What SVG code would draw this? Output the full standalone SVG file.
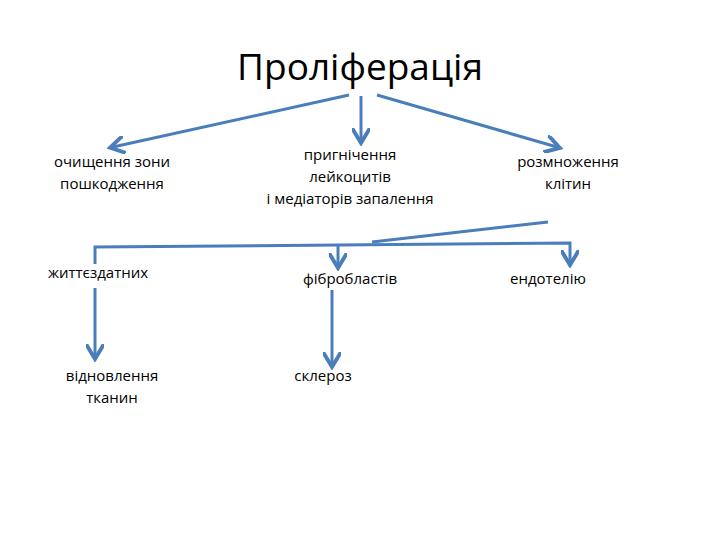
<svg xmlns="http://www.w3.org/2000/svg" width="720" height="540" viewBox="0 0 720 540">
<style>
text{font-family:"Open Sans","Liberation Sans",sans-serif;font-size:15px;fill:#000;text-anchor:middle}
.t{font-size:37px}
.c line,.c polyline{stroke:#4a7ebb;stroke-width:3;fill:none}
</style>
<defs><marker id="a" markerWidth="6" markerHeight="6" refX="4" refY="3" orient="auto" markerUnits="strokeWidth"><path d="M0,0 L5,3 L0,6" fill="none" stroke="#4a7ebb" stroke-width="1.3"/></marker></defs>
<rect width="720" height="540" fill="#fff"/>
<g id="title"><text class="t" x="360" y="80">Проліферація</text></g>
<g id="n1"><text x="112" y="167">очищення зони</text><text x="112" y="189">пошкодження</text></g>
<g id="n2"><text x="350" y="160">пригнічення</text><text x="350" y="182">лейкоцитів</text><text x="350" y="204">і медіаторів запалення</text></g>
<g id="n3"><text x="568" y="167">розмноження</text><text x="568" y="189">клітин</text></g>
<g id="n4"><text x="98" y="278">життєздатних</text></g>
<g id="n5"><text x="350" y="284">фібробластів</text></g>
<g id="n6"><text x="548" y="284">ендотелію</text></g>
<g id="n7"><text x="112" y="381">відновлення</text><text x="112" y="403">тканин</text></g>
<g id="n8"><text x="323" y="381">склероз</text></g>
<g class="c" id="connectors">
<line x1="349" y1="95" x2="113" y2="147" marker-end="url(#a)"/>
<line x1="361" y1="96" x2="361" y2="140" marker-end="url(#a)"/>
<line x1="377" y1="95" x2="557" y2="147" marker-end="url(#a)"/>
<line x1="548" y1="222" x2="372" y2="242"/>
<polyline points="95,264 95,247 570,243 570,262" marker-end="url(#a)"/>
<line x1="338" y1="245" x2="338" y2="265" marker-end="url(#a)"/>
<line x1="95" y1="288" x2="95" y2="356" marker-end="url(#a)"/>
<line x1="332" y1="290" x2="332" y2="364" marker-end="url(#a)"/>
</g>
</svg>
